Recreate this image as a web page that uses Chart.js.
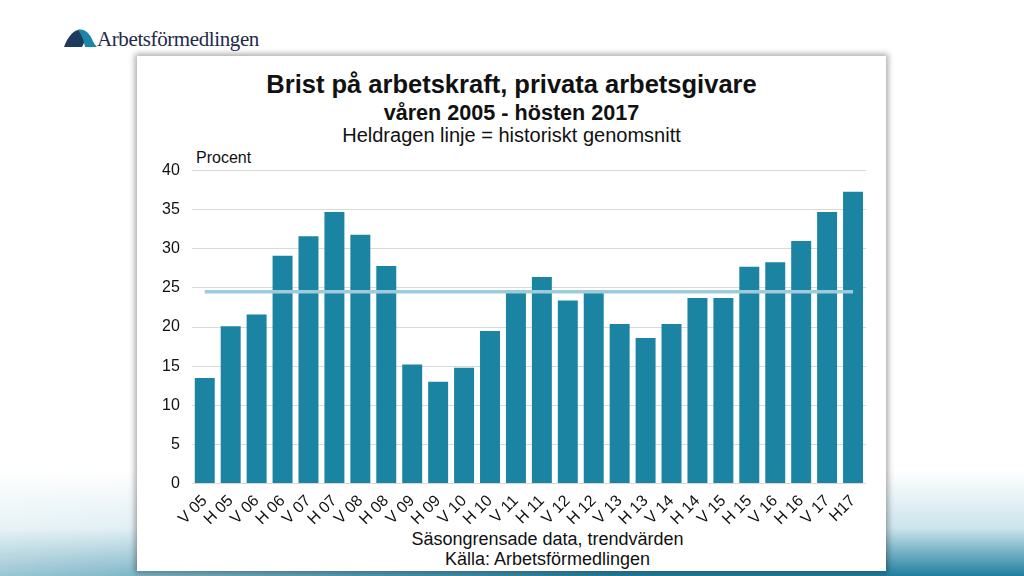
<!DOCTYPE html>
<html>
<head>
<meta charset="utf-8">
<script src="https://cdn.jsdelivr.net/npm/chart.js@4/dist/chart.umd.min.js"></script>
<style>
  html, body { margin: 0; padding: 0; }
  body {
    width: 1024px; height: 576px; position: relative; overflow: hidden;
    font-family: "Liberation Sans", Arial, sans-serif;
    background: #fff;
  }
  #bg-bottom {
    position: absolute; left: 0; top: 470px; width: 1024px; height: 106px;
    background: linear-gradient(to bottom, rgba(255,255,255,0) 0%, rgba(160,205,220,0.55) 55%, #1f7f9f 100%);
  }
  #bg-bottom-right {
    position: absolute; left: 0; top: 470px; width: 1024px; height: 106px;
    background: linear-gradient(to right, rgba(255,255,255,0.55) 0%, rgba(255,255,255,0) 60%);
  }
  #logo { position: absolute; left: 63px; top: 27px; height: 26px; }
  #logo span {
    position: absolute; left: 34px; top: 0px; white-space: nowrap;
    font-family: "Liberation Serif", "DejaVu Serif", serif; font-size: 21px;
    color: #1e2a4c; letter-spacing: -0.4px;
  }
  #panel {
    position: absolute; left: 137px; top: 56px; width: 749px; height: 515px;
    background: #fff;
    box-shadow: 0 0 6px 2px rgba(0,0,0,0.35);
  }
  .t { position: absolute; left: 0; width: 749px; text-align: center; color: #111; white-space: nowrap; }
  #t1 { top: 14px; font-size: 25.5px; font-weight: bold; }
  #t2 { top: 44px; font-size: 21.6px; font-weight: bold; }
  #t3 { top: 68px; font-size: 20px; }
  #procent { position: absolute; left: 59px; top: 93px; font-size: 16px; color: #111; }
  #chart-wrap { position: absolute; left: 13px; top: 93px; width: 725px; height: 380px; }
</style>
</head>
<body>
<div id="bg-bottom"></div>
<div id="bg-bottom-right"></div>

<div id="logo">
  <svg width="34" height="22" viewBox="0 0 34 22">
    <path d="M1 20 C4 12 9 4 15 3 C19 2 22 6 24 10 L19 20 Z" fill="#1e3a5f"/>
    <path d="M15 3 C21 1 26 6 29 12 C30 15 32 18 34 20 L22 20 C21 14 19 8 15 3 Z" fill="#1b86a6"/>
  </svg>
  <span>Arbetsförmedlingen</span>
</div>

<div id="panel">
  <div class="t" id="t1">Brist på arbetskraft, privata arbetsgivare</div>
  <div class="t" id="t2">våren 2005 - hösten 2017</div>
  <div class="t" id="t3">Heldragen linje = historiskt genomsnitt</div>
  <div id="procent">Procent</div>
  <div id="chart-wrap"><canvas id="chart"></canvas></div>
  <div class="t" style="top:473px;font-size:18px;left:36px;">Säsongrensade data, trendvärden</div>
  <div class="t" style="top:493px;font-size:18px;left:36px;">Källa: Arbetsförmedlingen</div>
</div>

<script>
// Categories (V = vår, H = höst)
var periods = ['V 05', 'H 05', 'V 06', 'H 06', 'V 07', 'H 07', 'V 08', 'H 08',
               'V 09', 'H 09', 'V 10', 'H 10', 'V 11', 'H 11', 'V 12', 'H 12',
               'V 13', 'H 13', 'V 14', 'H 14', 'V 15', 'H 15', 'V 16', 'H 16',
               'V 17', 'H17'];

// Brist på arbetskraft, procent
var shortage = [13.5, 20.1, 21.6, 29.1, 31.6, 34.7, 31.8, 27.8,
                15.2, 13.0, 14.8, 19.5, 24.4, 26.4, 23.4, 24.4,
                20.4, 18.6, 20.4, 23.7, 23.7, 27.7, 28.3, 31.0,
                34.7, 37.3];

// Historiskt genomsnitt
var average = [24.5, 24.5, 24.5, 24.5, 24.5, 24.5, 24.5, 24.5,
               24.5, 24.5, 24.5, 24.5, 24.5, 24.5, 24.5, 24.5,
               24.5, 24.5, 24.5, 24.5, 24.5, 24.5, 24.5, 24.5,
               24.5, 24.5];

var yTicks = [0, 5, 10, 15, 20, 25, 30, 35, 40];

var ctx = document.getElementById('chart');

var chart = new Chart(ctx, {
    data: {
        labels: periods,
        datasets: [
            {
                type: 'line',
                label: 'Historiskt genomsnitt',
                data: average,
                borderColor: '#9ccbdb',
                borderWidth: 3.5,
                pointRadius: 0,
                fill: false,
                order: 0
            },
            {
                type: 'bar',
                label: 'Brist',
                data: shortage,
                backgroundColor: '#1b84a2',
                barPercentage: 0.77,
                categoryPercentage: 1,
                order: 1
            }
        ]
    },
    options: {
        responsive: true,
        maintainAspectRatio: false,
        animation: false,
        layout: { padding: { top: 8, right: 9, left: 0, bottom: 0 } },
        plugins: {
            legend: { display: false },
            tooltip: { enabled: false }
        },
        scales: {
            x: {
                grid: { display: false },
                border: { display: false },
                ticks: {
                    color: '#111',
                    font: { family: 'Liberation Sans', size: 16 },
                    autoSkip: false,
                    minRotation: 45,
                    maxRotation: 45,
                    padding: 0
                }
            },
            y: {
                min: 0,
                max: 40,
                afterBuildTicks: function(axis) {
                    axis.ticks = yTicks.map(function(v) { return { value: v }; });
                },
                grid: { color: '#d9d9d9', lineWidth: 1, drawTicks: false },
                border: { display: false },
                ticks: {
                    color: '#111',
                    font: { family: 'Liberation Sans', size: 16 },
                    padding: 12
                }
            }
        }
    }
});
</script>
</body>
</html>
